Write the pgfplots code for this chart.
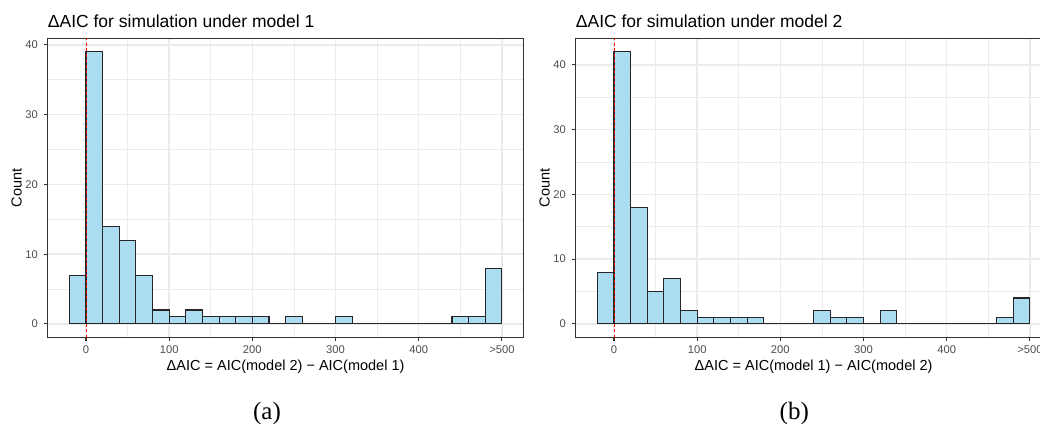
\documentclass[border=0pt]{standalone}
\usepackage{fontspec}
\setmainfont{Liberation Sans}
\newfontfamily\capfont{Liberation Serif}
\usepackage{pgfplots}
\pgfplotsset{compat=1.18}

\definecolor{barfill}{HTML}{ACDCF1}
\definecolor{barline}{HTML}{262626}
\definecolor{gridc}{HTML}{EBEBEB}
\definecolor{framec}{HTML}{333333}
\definecolor{ticklab}{HTML}{4D4D4D}

\pgfplotsset{
  aicpanel/.style={
    scale only axis, width=475.8pt, height=299.2pt,
    xmin=-46, xmax=526,
    clip=false,
    axis line style={framec, line width=1.1pt},
    xtick={0,100,200,300,400,500},
    xticklabels={0,100,200,300,400,{>500}},
    minor xtick={50,150,250,350,450},
    ytick={0,10,20,30,40},
    grid=both,
    major grid style={gridc, line width=1.4pt},
    minor grid style={gridc, line width=0.7pt},
    tick align=outside, tick pos=left,
    major tick length=3.6pt, minor tick length=0pt,
    major tick style={framec, line width=1.1pt},
    /pgf/number format/assume math mode=true,
    ticklabel style={font=\fontsize{11.2}{13}\selectfont, text=ticklab, inner sep=0pt},
    xticklabel style={anchor=north, yshift=-4pt},
    yticklabel style={anchor=east, xshift=-6pt},
  },
  hist/.style={ybar interval, fill=barfill, draw=barline, line width=1.1pt},
  zeroline/.style={red, line width=0.8pt, dash pattern=on 3pt off 2.5pt},
}
\tikzset{
  ptitle/.style={anchor=base west, inner sep=0pt, font=\fontsize{17.5}{20}\selectfont},
  plabel/.style={inner sep=0pt, font=\fontsize{14.5}{17}\selectfont},
}

\begin{document}
\begin{tikzpicture}

% Simulation under model 1
\begin{axis}[aicpanel, at={(47.7pt,-337.5pt)}, anchor=south west,
  ymin=-1.95, ymax=40.95, minor ytick={5,15,25,35}]
  \addplot[hist] coordinates {
    (-20,7) (0,39) (20,14) (40,12) (60,7) (80,2) (100,1) (120,2)
    (140,1) (160,1) (180,1) (200,1) (220,0) (240,1) (260,0) (280,0)
    (300,1) (320,0) (340,0) (360,0) (380,0) (400,0) (420,0) (440,1)
    (460,1) (480,8) (500,0)};
  \addplot[zeroline] coordinates {(0,-1.95) (0,40.95)};
  \node[ptitle] at ([yshift=11pt]rel axis cs:0,1) {ΔAIC for simulation under model 1};
  \node[plabel, anchor=base] at ([yshift=-33.2pt]rel axis cs:0.5,0) {ΔAIC = AIC(model 2) − AIC(model 1)};
  \node[plabel, anchor=base, rotate=90] at ([xshift=-26pt]rel axis cs:0,0.5) {Count};
\end{axis}

% Simulation under model 2
\begin{axis}[aicpanel, at={(575.7pt,-337.5pt)}, anchor=south west,
  ymin=-2.1, ymax=44.1, minor ytick={5,15,25,35}]
  \addplot[hist] coordinates {
    (-20,8) (0,42) (20,18) (40,5) (60,7) (80,2) (100,1) (120,1)
    (140,1) (160,1) (180,0) (200,0) (220,0) (240,2) (260,1) (280,1)
    (300,0) (320,2) (340,0) (360,0) (380,0) (400,0) (420,0) (440,0)
    (460,1) (480,4) (500,0)};
  \addplot[zeroline] coordinates {(0,-2.1) (0,44.1)};
  \node[ptitle] at ([yshift=11pt]rel axis cs:0,1) {ΔAIC for simulation under model 2};
  \node[plabel, anchor=base] at ([yshift=-33.2pt]rel axis cs:0.5,0) {ΔAIC = AIC(model 1) − AIC(model 2)};
  \node[plabel, anchor=base, rotate=90] at ([xshift=-26pt]rel axis cs:0,0.5) {Count};
\end{axis}

\node[anchor=base, inner sep=0pt, font=\capfont\fontsize{25}{28}\selectfont] at (267pt,-419pt) {(a)};
\node[anchor=base, inner sep=0pt, font=\capfont\fontsize{25}{28}\selectfont] at (794.3pt,-419pt) {(b)};

\pgfresetboundingbox
\useasboundingbox (0,0) rectangle (1040pt,-427pt);
\end{tikzpicture}
\end{document}
